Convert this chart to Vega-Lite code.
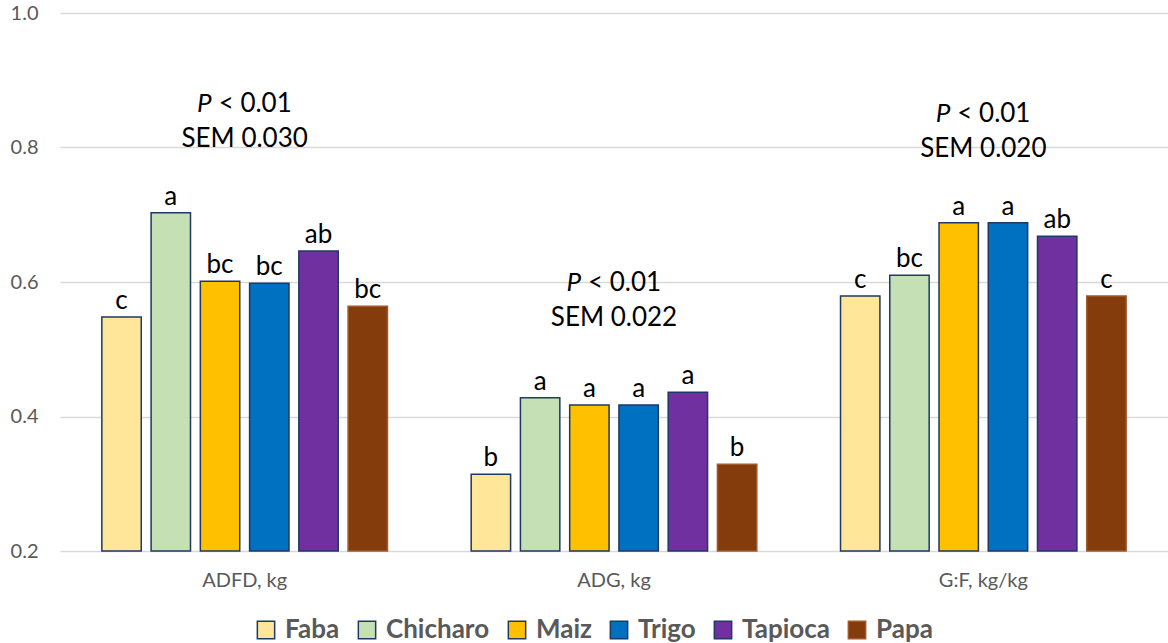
{
  "$schema": "https://vega.github.io/schema/vega-lite/v6.json",
  "width": 1108,
  "height": 538,
  "autosize": {"type": "none"},
  "padding": {"left": 60, "top": 13, "right": 0, "bottom": 92},
  "background": "white",
  "config": {
    "view": {"stroke": null},
    "font": "Lato",
    "text": {"font": "Lato"}
  },
  "datasets": {
    "bars": [
      {"measure": "ADFD, kg", "feed": "Faba", "value": 0.548, "letter": "c"},
      {"measure": "ADFD, kg", "feed": "Chicharo", "value": 0.703, "letter": "a"},
      {"measure": "ADFD, kg", "feed": "Maiz", "value": 0.601, "letter": "bc"},
      {"measure": "ADFD, kg", "feed": "Trigo", "value": 0.598, "letter": "bc"},
      {"measure": "ADFD, kg", "feed": "Tapioca", "value": 0.646, "letter": "ab"},
      {"measure": "ADFD, kg", "feed": "Papa", "value": 0.564, "letter": "bc"},
      {"measure": "ADG, kg", "feed": "Faba", "value": 0.314, "letter": "b"},
      {"measure": "ADG, kg", "feed": "Chicharo", "value": 0.428, "letter": "a"},
      {"measure": "ADG, kg", "feed": "Maiz", "value": 0.417, "letter": "a"},
      {"measure": "ADG, kg", "feed": "Trigo", "value": 0.417, "letter": "a"},
      {"measure": "ADG, kg", "feed": "Tapioca", "value": 0.436, "letter": "a"},
      {"measure": "ADG, kg", "feed": "Papa", "value": 0.329, "letter": "b"},
      {"measure": "G:F, kg/kg", "feed": "Faba", "value": 0.579, "letter": "c"},
      {"measure": "G:F, kg/kg", "feed": "Chicharo", "value": 0.610, "letter": "bc"},
      {"measure": "G:F, kg/kg", "feed": "Maiz", "value": 0.688, "letter": "a"},
      {"measure": "G:F, kg/kg", "feed": "Trigo", "value": 0.688, "letter": "a"},
      {"measure": "G:F, kg/kg", "feed": "Tapioca", "value": 0.668, "letter": "ab"},
      {"measure": "G:F, kg/kg", "feed": "Papa", "value": 0.579, "letter": "c"}
    ],
    "stats": [
      {"measure": "ADFD, kg", "p": "< 0.01", "sem": "SEM 0.030"},
      {"measure": "ADG, kg", "p": "< 0.01", "sem": "SEM 0.022"},
      {"measure": "G:F, kg/kg", "p": "< 0.01", "sem": "SEM 0.020"}
    ]
  },
  "encoding": {
    "x": {
      "field": "measure",
      "type": "nominal",
      "sort": ["ADFD, kg", "ADG, kg", "G:F, kg/kg"],
      "scale": {"paddingInner": 0.2, "paddingOuter": 0.1},
      "axis": {
        "title": null,
        "labelAngle": 0,
        "domain": false,
        "ticks": false,
        "labelPadding": 19,
        "labelFontSize": 20,
        "labelColor": "#595959",
        "labelFont": "Lato"
      }
    }
  },
  "layer": [
    {
      "data": {"name": "bars"},
      "mark": {"type": "bar", "strokeWidth": 1.5},
      "encoding": {
        "xOffset": {
          "field": "feed",
          "type": "nominal",
          "sort": ["Faba", "Chicharo", "Maiz", "Trigo", "Tapioca", "Papa"],
          "scale": {"paddingInner": 0.2, "paddingOuter": 0.1}
        },
        "y": {
          "field": "value",
          "type": "quantitative",
          "scale": {"domain": [0.2, 1.0], "zero": false, "nice": false},
          "axis": {
            "title": null,
            "values": [0.2, 0.4, 0.6, 0.8, 1.0],
            "format": ".1f",
            "domain": false,
            "ticks": false,
            "labelPadding": 22,
            "labelFontSize": 20,
            "labelColor": "#595959",
            "labelFont": "Lato",
            "gridColor": "#D9D9D9",
            "gridWidth": 1.3
          }
        },
        "y2": {"datum": 0.2},
        "color": {
          "field": "feed",
          "type": "nominal",
          "sort": ["Faba", "Chicharo", "Maiz", "Trigo", "Tapioca", "Papa"],
          "scale": {
            "domain": ["Faba", "Chicharo", "Maiz", "Trigo", "Tapioca", "Papa"],
            "range": ["#FFE699", "#C5E0B4", "#FFC000", "#0070C0", "#7030A0", "#843C0C"]
          },
          "legend": {
            "title": null,
            "orient": "none",
            "direction": "horizontal",
            "legendX": 193,
            "legendY": 604,
            "symbolType": "square",
            "symbolSize": 300,
            "symbolStrokeWidth": 1.5,
            "labelFontSize": 26,
            "labelFontWeight": "bold",
            "labelColor": "#595959",
            "labelFont": "Lato",
            "labelOffset": 6,
            "columnPadding": 14
          }
        },
        "stroke": {
          "field": "feed",
          "type": "nominal",
          "sort": ["Faba", "Chicharo", "Maiz", "Trigo", "Tapioca", "Papa"],
          "scale": {
            "domain": ["Faba", "Chicharo", "Maiz", "Trigo", "Tapioca", "Papa"],
            "range": ["#1F3864", "#1F3864", "#1F3864", "#1F3864", "#1F3864", "#A0592B"]
          },
          "legend": {
            "title": null,
            "orient": "none",
            "direction": "horizontal",
            "legendX": 193,
            "legendY": 604,
            "symbolType": "square",
            "symbolSize": 300,
            "symbolStrokeWidth": 1.5,
            "labelFontSize": 26,
            "labelFontWeight": "bold",
            "labelColor": "#595959",
            "labelFont": "Lato",
            "labelOffset": 6,
            "columnPadding": 14
          }
        }
      }
    },
    {
      "data": {"name": "bars"},
      "mark": {"type": "text", "baseline": "alphabetic", "dy": -8, "fontSize": 26, "color": "#000000"},
      "encoding": {
        "xOffset": {
          "field": "feed",
          "type": "nominal",
          "sort": ["Faba", "Chicharo", "Maiz", "Trigo", "Tapioca", "Papa"],
          "scale": {"paddingInner": 0.2, "paddingOuter": 0.1}
        },
        "y": {"field": "value", "type": "quantitative"},
        "text": {"field": "letter"}
      }
    },
    {
      "data": {"name": "bars"},
      "transform": [
        {"aggregate": [{"op": "max", "field": "value", "as": "top"}], "groupby": ["measure"]},
        {"lookup": "measure", "from": {"data": {"name": "stats"}, "key": "measure", "fields": ["p", "sem"]}}
      ],
      "layer": [
        {
          "mark": {"type": "text", "baseline": "alphabetic", "align": "center", "dy": -66, "fontSize": 26, "color": "#000000"},
          "encoding": {
            "y": {"field": "top", "type": "quantitative"},
            "text": {"field": "sem"}
          }
        },
        {
          "mark": {"type": "text", "baseline": "alphabetic", "align": "right", "dx": -33, "dy": -101, "fontSize": 26, "fontStyle": "italic", "color": "#000000"},
          "encoding": {
            "y": {"field": "top", "type": "quantitative"},
            "text": {"value": "P"}
          }
        },
        {
          "mark": {"type": "text", "baseline": "alphabetic", "align": "left", "dx": -26, "dy": -101, "fontSize": 26, "color": "#000000"},
          "encoding": {
            "y": {"field": "top", "type": "quantitative"},
            "text": {"field": "p"}
          }
        }
      ]
    }
  ]
}
